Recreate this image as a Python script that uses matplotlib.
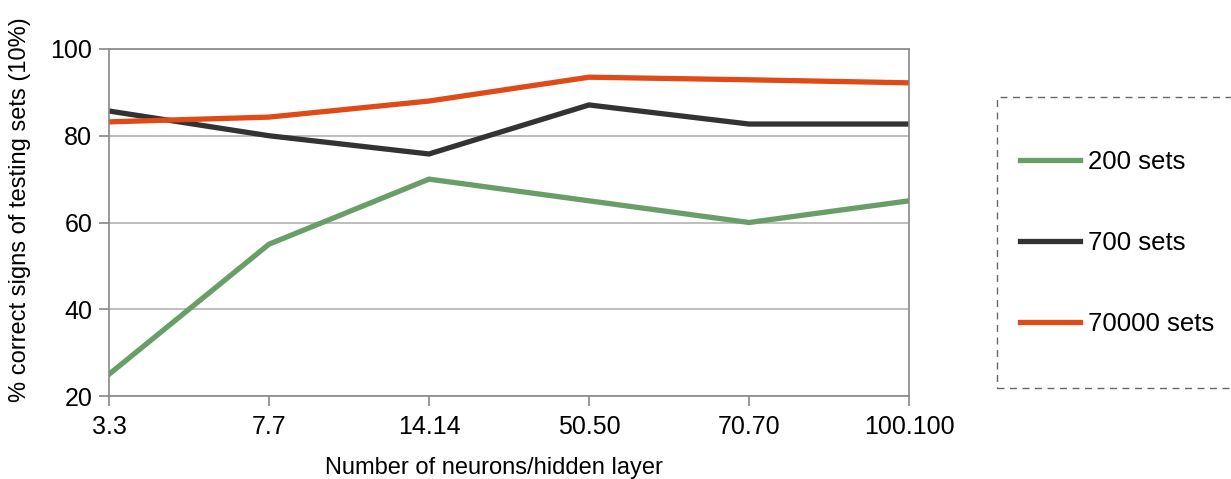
#!/usr/bin/env python3

import matplotlib
matplotlib.use("Agg")
import matplotlib.pyplot as plt
from matplotlib.patches import Rectangle

plt.rcParams['font.family'] = ['Liberation Sans', 'DejaVu Sans']

categories = ['3.3', '7.7', '14.14', '50.50', '70.70', '100.100']
sets_200 = [25, 55, 70, 65, 60, 65]
sets_700 = [85.7, 80, 75.8, 87.1, 82.7, 82.7]
sets_70000 = [83.2, 84.3, 88, 93.5, 92.9, 92.2]

fig = plt.figure(figsize=(12.31, 4.79), dpi=100)
ax = fig.add_axes([109 / 1231, 1 - 396 / 479, 800 / 1231, 347 / 479])

x = list(range(len(categories)))
ax.plot(x, sets_200, color='#6a9e68', lw=3.8, label='200 sets', solid_joinstyle='miter')
ax.plot(x, sets_700, color='#333333', lw=3.8, label='700 sets', solid_joinstyle='miter')
ax.plot(x, sets_70000, color='#e04a16', lw=3.8, label='70000 sets', solid_joinstyle='miter')

ax.set_xlim(0, len(categories) - 1)
ax.set_ylim(20, 100)
ax.set_yticks([20, 40, 60, 80, 100])
ax.set_xticks(x)
ax.set_xticklabels(categories)
ax.tick_params(axis='both', labelsize=18, colors='#888888', labelcolor='black',
               length=7, width=1.2)
ax.tick_params(axis='x', pad=7)
ax.tick_params(axis='y', pad=5)
ax.yaxis.grid(True, color='#b3b3b3', lw=1.2)
ax.set_axisbelow(True)
for s in ax.spines.values():
    s.set_color('#888888')
    s.set_linewidth(1.2)

ax.set_xlabel('Number of neurons/hidden layer', fontsize=17, va='center')
ax.xaxis.set_label_coords(0.481, -0.2075)
ax.set_ylabel('% correct signs of testing sets (10%)', fontsize=17, va='center')
ax.yaxis.set_label_coords(-0.111, 0.536)

# legend box (dashed border, runs off the right edge)
fig.patches.append(Rectangle((997 / 1231, 1 - 388 / 479), 240 / 1231, 291 / 479,
                             transform=fig.transFigure, fill=False,
                             edgecolor='#666666', lw=1, ls=(0, (5, 4))))
fig.legend(loc='center left', bbox_to_anchor=(1020 / 1231, 1 - 243 / 479),
           frameon=False, fontsize=18.5, handlelength=2.35, handletextpad=0.3,
           labelspacing=2.2, borderpad=0, borderaxespad=0)

fig.savefig('out.png', dpi=100)
